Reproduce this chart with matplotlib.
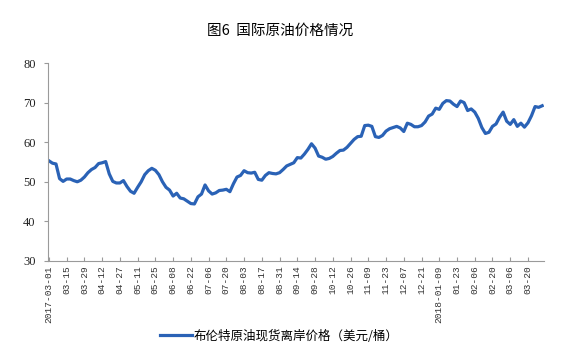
import numpy as np
import matplotlib
matplotlib.use('Agg')
import matplotlib.pyplot as plt

# 布伦特原油现货离岸价格，每两个交易日读一个值（美元/桶）
prices = [
    55.3, 54.7, 54.5, 50.8, 50.1, 50.7, 50.7, 50.3, 50.0, 50.4,
    51.2, 52.3, 53.1, 53.6, 54.6, 54.8, 55.1, 52.0, 50.1, 49.7,
    49.7, 50.3, 48.8, 47.6, 47.1, 48.6, 50.0, 51.8, 52.8, 53.4,
    52.9, 51.8, 50.0, 48.6, 47.9, 46.4, 47.1, 45.9, 45.7, 45.1,
    44.5, 44.4, 46.2, 46.9, 49.2, 47.7, 46.9, 47.2, 47.8, 47.9,
    48.1, 47.5, 49.5, 51.2, 51.6, 52.8, 52.3, 52.2, 52.4, 50.6,
    50.4, 51.6, 52.3, 52.1, 52.0, 52.3, 53.1, 54.0, 54.4, 54.8,
    56.1, 56.0, 57.0, 58.2, 59.6, 58.5, 56.5, 56.2, 55.7, 55.9,
    56.4, 57.2, 57.9, 58.0, 58.7, 59.7, 60.7, 61.4, 61.5, 64.2,
    64.3, 64.0, 61.4, 61.2, 61.7, 62.8, 63.4, 63.7, 64.0, 63.6,
    62.7, 64.8, 64.5, 63.9, 63.9, 64.2, 65.1, 66.6, 67.1, 68.6,
    68.3, 69.8, 70.5, 70.4, 69.6, 69.0, 70.4, 70.0, 68.0, 68.4,
    67.6, 66.0, 63.7, 62.2, 62.5, 64.0, 64.6, 66.3, 67.6, 65.3,
    64.5, 65.7, 64.0, 64.8, 63.8, 64.9, 66.7, 69.0, 68.8, 69.2,
]
step = 2  # 交易日间隔

tick_labels = [
    '2017-03-01', '03-15', '03-29', '04-12', '04-27', '05-11', '05-25',
    '06-08', '06-22', '07-06', '07-20', '08-03', '08-17', '08-31',
    '09-14', '09-28', '10-12', '10-26', '11-09', '11-23', '12-07',
    '12-21', '2018-01-09', '01-23', '02-06', '02-20', '03-06', '03-20',
]
tick_every = 10  # 每10个交易日一个标签

title = '图6  国际原油价格情况'
series_name = '布伦特原油现货离岸价格（美元/桶）'

plt.rcParams['font.family'] = ['Noto Sans CJK SC', 'DejaVu Sans']

fig = plt.figure(figsize=(5.61, 3.57), dpi=100)
ax = fig.add_axes([0.0856, 0.269, 0.884, 0.5545])

x = np.arange(len(prices)) * step
ax.plot(x, prices, color='#2A62B6', lw=2.3, solid_joinstyle='round',
        label=series_name)

ax.set_ylim(30, 80)
ax.set_yticks(range(30, 81, 10))
ax.set_xlim(-0.5, x[-1] + 1)
ax.set_xticks(np.arange(len(tick_labels)) * tick_every)
ax.set_xticklabels(tick_labels, rotation=90, fontsize=6.8,
                   family=['Liberation Mono'], color='#333333')
for lab in ax.get_yticklabels():
    lab.set_family(['Liberation Serif'])
    lab.set_fontsize(9)
    lab.set_color('#222222')

for s in ['top', 'right']:
    ax.spines[s].set_visible(False)
for s in ['left', 'bottom']:
    ax.spines[s].set_color('#9a9a9a')
    ax.spines[s].set_linewidth(0.8)
ax.tick_params(axis='x', direction='in', length=3, color='#9a9a9a', pad=3)
ax.tick_params(axis='y', direction='out', length=3, color='#9a9a9a', pad=6)

fig.text(0.5, 0.915, title, ha='center', va='center', fontsize=10.5,
         weight='medium')

fig.legend(loc='center', bbox_to_anchor=(0.497, 0.058), frameon=False,
           fontsize=9, handlelength=2.6, handletextpad=0.1)

fig.savefig('out.png', dpi=100)
